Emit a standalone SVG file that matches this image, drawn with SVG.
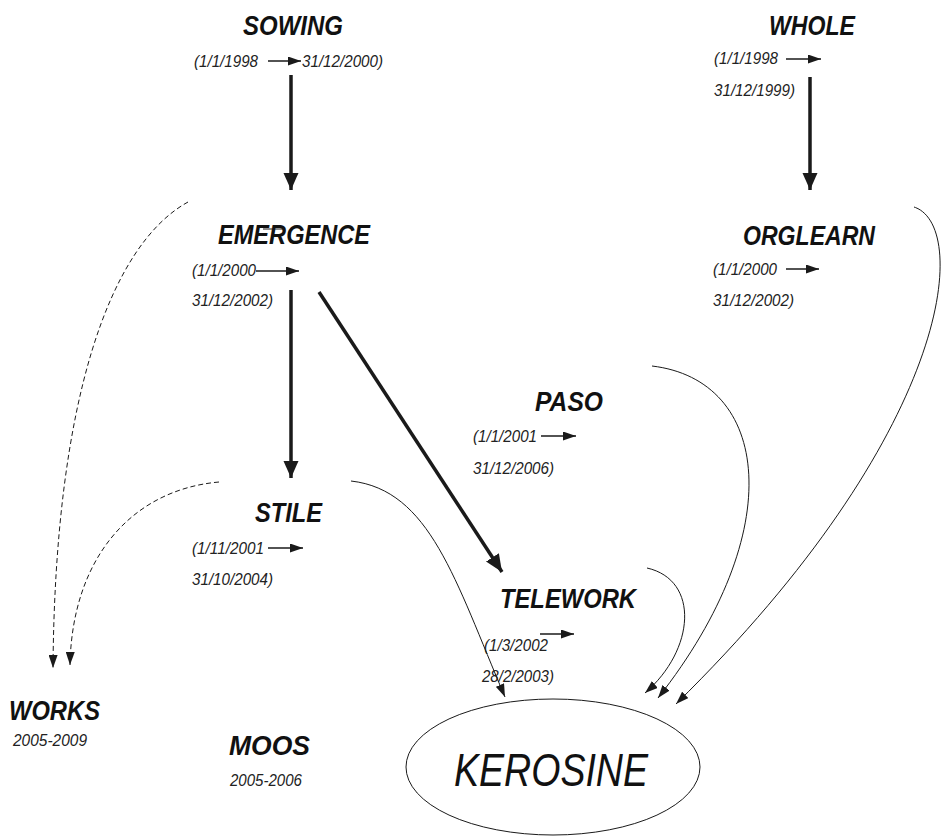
<svg xmlns="http://www.w3.org/2000/svg" width="946" height="837" viewBox="0 0 946 837">
<style>
.t{font-family:"Liberation Sans",Arial,sans-serif;font-style:italic;font-weight:bold;font-size:27px;fill:#111}
.d{font-family:"Liberation Sans",Arial,sans-serif;font-style:italic;font-size:16.5px;fill:#222}
.thick{stroke:#1a1a1a;stroke-width:3.5;fill:none}
.thin{stroke:#1a1a1a;stroke-width:1;fill:none}
.dash{stroke:#1a1a1a;stroke-width:1;fill:none;stroke-dasharray:5,3}
.da{stroke:#1a1a1a;stroke-width:1.3;fill:none}
</style>
<defs>
<marker id="big" markerWidth="5" markerHeight="4.4" refX="5" refY="2.2" orient="auto" markerUnits="strokeWidth"><path d="M0,0 L5,2.2 L0,4.4 Z" fill="#1a1a1a"/></marker>
<marker id="sm" markerWidth="13" markerHeight="9" refX="13" refY="4.5" orient="auto" markerUnits="userSpaceOnUse"><path d="M0,0 L13,4.5 L0,9 Z" fill="#1a1a1a"/></marker>
<marker id="dt" markerWidth="13" markerHeight="9" refX="13" refY="4.5" orient="auto" markerUnits="userSpaceOnUse"><path d="M0,0 L13,4.5 L0,9 Z" fill="#1a1a1a"/></marker>
</defs>
<g id="connectors">
<line class="thick" x1="291" y1="75" x2="291" y2="190" marker-end="url(#big)"/>
<line class="thick" x1="810" y1="77" x2="810" y2="190" marker-end="url(#big)"/>
<line class="thick" x1="291" y1="290" x2="291" y2="478" marker-end="url(#big)"/>
<line class="thick" x1="319" y1="292" x2="502" y2="572" marker-end="url(#big)"/>
<path class="dash" d="M188,202 C110,245 55,400 53,668" marker-end="url(#sm)"/>
<path class="dash" d="M219,482 C130,490 72,560 70,665" marker-end="url(#sm)"/>
<path class="thin" d="M351,481 C430,490 455,580 505,697" marker-end="url(#sm)"/>
<path class="thin" d="M647,568 C700,580 695,650 645,693" marker-end="url(#sm)"/>
<path class="thin" d="M652,366 C770,380 790,530 658,698" marker-end="url(#sm)"/>
<path class="thin" d="M914,207 C970,225 955,430 676,704" marker-end="url(#sm)"/>
</g>
<g id="sowing">
<text class="t" x="243" y="35" textLength="100" lengthAdjust="spacingAndGlyphs">SOWING</text>
<text class="d" x="194" y="67" textLength="64" lengthAdjust="spacingAndGlyphs">(1/1/1998</text>
<line class="da" x1="268" y1="61" x2="301" y2="61" marker-end="url(#dt)"/>
<text class="d" x="302" y="67" textLength="81" lengthAdjust="spacingAndGlyphs">31/12/2000)</text>
</g>
<g id="whole">
<text class="t" x="769" y="35" textLength="86" lengthAdjust="spacingAndGlyphs">WHOLE</text>
<text class="d" x="714" y="64" textLength="64" lengthAdjust="spacingAndGlyphs">(1/1/1998</text>
<line class="da" x1="786" y1="59" x2="821" y2="59" marker-end="url(#dt)"/>
<text class="d" x="714" y="96" textLength="81" lengthAdjust="spacingAndGlyphs">31/12/1999)</text>
</g>
<g id="emergence">
<text class="t" x="218" y="244" textLength="152" lengthAdjust="spacingAndGlyphs">EMERGENCE</text>
<line class="thin" x1="263" y1="229" x2="284" y2="229"/>
<text class="d" x="192" y="276" textLength="64" lengthAdjust="spacingAndGlyphs">(1/1/2000</text>
<line class="da" x1="256" y1="271" x2="299" y2="271" marker-end="url(#dt)"/>
<text class="d" x="192" y="306" textLength="81" lengthAdjust="spacingAndGlyphs">31/12/2002)</text>
</g>
<g id="orglearn">
<text class="t" x="743" y="245" textLength="132" lengthAdjust="spacingAndGlyphs">ORGLEARN</text>
<text class="d" x="713" y="275" textLength="64" lengthAdjust="spacingAndGlyphs">(1/1/2000</text>
<line class="da" x1="786" y1="269" x2="819" y2="269" marker-end="url(#dt)"/>
<text class="d" x="713" y="306" textLength="81" lengthAdjust="spacingAndGlyphs">31/12/2002)</text>
</g>
<g id="paso">
<text class="t" x="535" y="411" textLength="68" lengthAdjust="spacingAndGlyphs">PASO</text>
<text class="d" x="473" y="442" textLength="64" lengthAdjust="spacingAndGlyphs">(1/1/2001</text>
<line class="da" x1="541" y1="436" x2="576" y2="436" marker-end="url(#dt)"/>
<text class="d" x="473" y="474" textLength="81" lengthAdjust="spacingAndGlyphs">31/12/2006)</text>
</g>
<g id="stile">
<text class="t" x="255" y="522" textLength="67" lengthAdjust="spacingAndGlyphs">STILE</text>
<text class="d" x="192" y="554" textLength="72" lengthAdjust="spacingAndGlyphs">(1/11/2001</text>
<line class="da" x1="268" y1="548" x2="303" y2="548" marker-end="url(#dt)"/>
<text class="d" x="192" y="585" textLength="81" lengthAdjust="spacingAndGlyphs">31/10/2004)</text>
</g>
<g id="telework">
<text class="t" x="500" y="608" textLength="136" lengthAdjust="spacingAndGlyphs">TELEWORK</text>
<line class="da" x1="540" y1="634" x2="574" y2="634" marker-end="url(#dt)"/>
<text class="d" x="484" y="651" textLength="64" lengthAdjust="spacingAndGlyphs">(1/3/2002</text>
<text class="d" x="482" y="682" textLength="72" lengthAdjust="spacingAndGlyphs">28/2/2003)</text>
</g>
<g id="works">
<text class="t" x="9" y="720" textLength="91" lengthAdjust="spacingAndGlyphs">WORKS</text>
<text class="d" x="13" y="746" textLength="74" lengthAdjust="spacingAndGlyphs">2005-2009</text>
</g>
<g id="moos">
<text class="t" x="229" y="755" textLength="81" lengthAdjust="spacingAndGlyphs">MOOS</text>
<text class="d" x="230" y="786" textLength="72" lengthAdjust="spacingAndGlyphs">2005-2006</text>
</g>
<g id="kerosine">
<ellipse cx="553" cy="767" rx="147" ry="68" fill="none" stroke="#1a1a1a" stroke-width="1"/>
<text x="454" y="786" textLength="194" lengthAdjust="spacingAndGlyphs" style="font-family:'Liberation Sans',Arial,sans-serif;font-style:italic;font-size:46px;fill:#111">KEROSINE</text>
</g>
</svg>
